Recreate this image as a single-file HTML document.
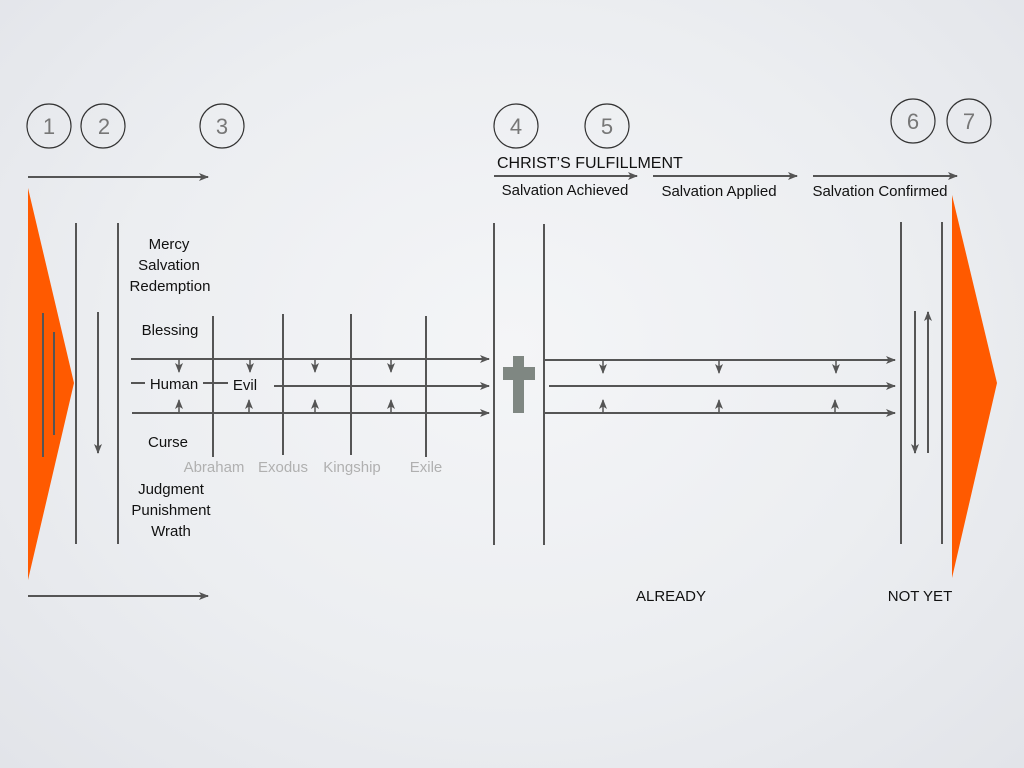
<!DOCTYPE html>
<html><head><meta charset="utf-8"><style>
html,body{margin:0;padding:0}
body{width:1024px;height:768px;overflow:hidden;background:radial-gradient(ellipse at 50% 45%,#f4f5f7 0%,#eceef1 55%,#e2e4e9 100%);}
svg{position:absolute;left:0;top:0}
text{font-family:"Liberation Sans",sans-serif;font-size:15px;fill:#111}
.g{fill:#b0b0b0}
.n{font-size:22px;fill:#777}
</style></head><body>
<svg width="1024" height="768" viewBox="0 0 1024 768">
<defs>
<marker id="a" markerWidth="10" markerHeight="10" refX="9" refY="5" orient="auto" markerUnits="userSpaceOnUse"><path d="M0,1 L10,5 L0,9 L2.5,5 Z" fill="#555"/></marker>
</defs>
<g stroke="#555" stroke-width="2" fill="none">
<g stroke="#333" stroke-width="1.2">
<circle cx="49" cy="126" r="22"/>
<circle cx="103" cy="126" r="22"/>
<circle cx="222" cy="126" r="22"/>
<circle cx="516" cy="126" r="22"/>
<circle cx="607" cy="126" r="22"/>
<circle cx="913" cy="121" r="22"/>
<circle cx="969" cy="121" r="22"/>
</g>
<line x1="28" y1="177" x2="208" y2="177" marker-end="url(#a)"/>
<line x1="28" y1="596" x2="208" y2="596" marker-end="url(#a)"/>
<line x1="494" y1="176" x2="637" y2="176" marker-end="url(#a)"/>
<line x1="653" y1="176" x2="797" y2="176" marker-end="url(#a)"/>
<line x1="813" y1="176" x2="957" y2="176" marker-end="url(#a)"/>
<line x1="76" y1="223" x2="76" y2="544"/>
<line x1="118" y1="223" x2="118" y2="544"/>
<line x1="494" y1="223" x2="494" y2="545"/>
<line x1="544" y1="224" x2="544" y2="545"/>
<line x1="901" y1="222" x2="901" y2="544"/>
<line x1="942" y1="222" x2="942" y2="544"/>
<line x1="98" y1="312" x2="98" y2="453" marker-end="url(#a)"/>
<line x1="915" y1="311" x2="915" y2="453" marker-end="url(#a)"/>
<line x1="928" y1="453" x2="928" y2="312" marker-end="url(#a)"/>
<line x1="213" y1="316" x2="213" y2="457"/>
<line x1="283" y1="314" x2="283" y2="455"/>
<line x1="351" y1="314" x2="351" y2="455"/>
<line x1="426" y1="316" x2="426" y2="457"/>
<line x1="131" y1="359" x2="489" y2="359" marker-end="url(#a)"/>
<line x1="274" y1="386" x2="489" y2="386" marker-end="url(#a)"/>
<line x1="132" y1="413" x2="489" y2="413" marker-end="url(#a)"/>
<line x1="131" y1="383" x2="145" y2="383"/>
<line x1="203" y1="383" x2="228" y2="383"/>
<line x1="544" y1="360" x2="895" y2="360" marker-end="url(#a)"/>
<line x1="549" y1="386" x2="895" y2="386" marker-end="url(#a)"/>
<line x1="544" y1="413" x2="895" y2="413" marker-end="url(#a)"/>
<g stroke-width="1.5">
<line x1="179" y1="359" x2="179" y2="372" marker-end="url(#a)"/>
<line x1="250" y1="359" x2="250" y2="372" marker-end="url(#a)"/>
<line x1="315" y1="359" x2="315" y2="372" marker-end="url(#a)"/>
<line x1="391" y1="359" x2="391" y2="372" marker-end="url(#a)"/>
<line x1="179" y1="413" x2="179" y2="400" marker-end="url(#a)"/>
<line x1="249" y1="413" x2="249" y2="400" marker-end="url(#a)"/>
<line x1="315" y1="413" x2="315" y2="400" marker-end="url(#a)"/>
<line x1="391" y1="413" x2="391" y2="400" marker-end="url(#a)"/>
<line x1="603" y1="360" x2="603" y2="373" marker-end="url(#a)"/>
<line x1="719" y1="360" x2="719" y2="373" marker-end="url(#a)"/>
<line x1="836" y1="360" x2="836" y2="373" marker-end="url(#a)"/>
<line x1="603" y1="413" x2="603" y2="400" marker-end="url(#a)"/>
<line x1="719" y1="413" x2="719" y2="400" marker-end="url(#a)"/>
<line x1="835" y1="413" x2="835" y2="400" marker-end="url(#a)"/>
</g>
</g>
<polygon points="28,188 74,383 28,580" fill="#ff5a00"/>
<polygon points="952,195 997,383 952,578" fill="#ff5a00"/>
<line x1="43" y1="313" x2="43" y2="457" stroke="#555" stroke-width="2"/>
<line x1="54" y1="332" x2="54" y2="435" stroke="#555" stroke-width="2"/>
<rect x="513" y="356" width="11" height="57" fill="#7f8782"/>
<rect x="503" y="367" width="32" height="13" fill="#7f8782"/>
<g text-anchor="middle">
<text x="49" y="134" class="n">1</text><text x="104" y="134" class="n">2</text><text x="222" y="134" class="n">3</text>
<text x="516" y="134" class="n">4</text><text x="607" y="134" class="n">5</text><text x="913" y="129" class="n">6</text><text x="969" y="129" class="n">7</text>
</g>
<g text-anchor="middle">
<text x="169" y="249">Mercy</text>
<text x="169" y="270">Salvation</text>
<text x="170" y="291">Redemption</text>
<text x="170" y="335">Blessing</text>
<text x="174" y="389">Human</text>
<text x="245" y="390">Evil</text>
<text x="168" y="447">Curse</text>
<text x="171" y="494">Judgment</text>
<text x="171" y="515">Punishment</text>
<text x="171" y="536">Wrath</text>
<text x="214" y="472" class="g">Abraham</text>
<text x="283" y="472" class="g">Exodus</text>
<text x="352" y="472" class="g">Kingship</text>
<text x="426" y="472" class="g">Exile</text>
<text x="565" y="195">Salvation Achieved</text>
<text x="719" y="196">Salvation Applied</text>
<text x="880" y="196">Salvation Confirmed</text>
<text x="671" y="601">ALREADY</text>
<text x="920" y="601">NOT YET</text>
</g>
<text x="497" y="168" style="font-size:16px">CHRIST’S FULFILLMENT</text>
</svg>
</body></html>
